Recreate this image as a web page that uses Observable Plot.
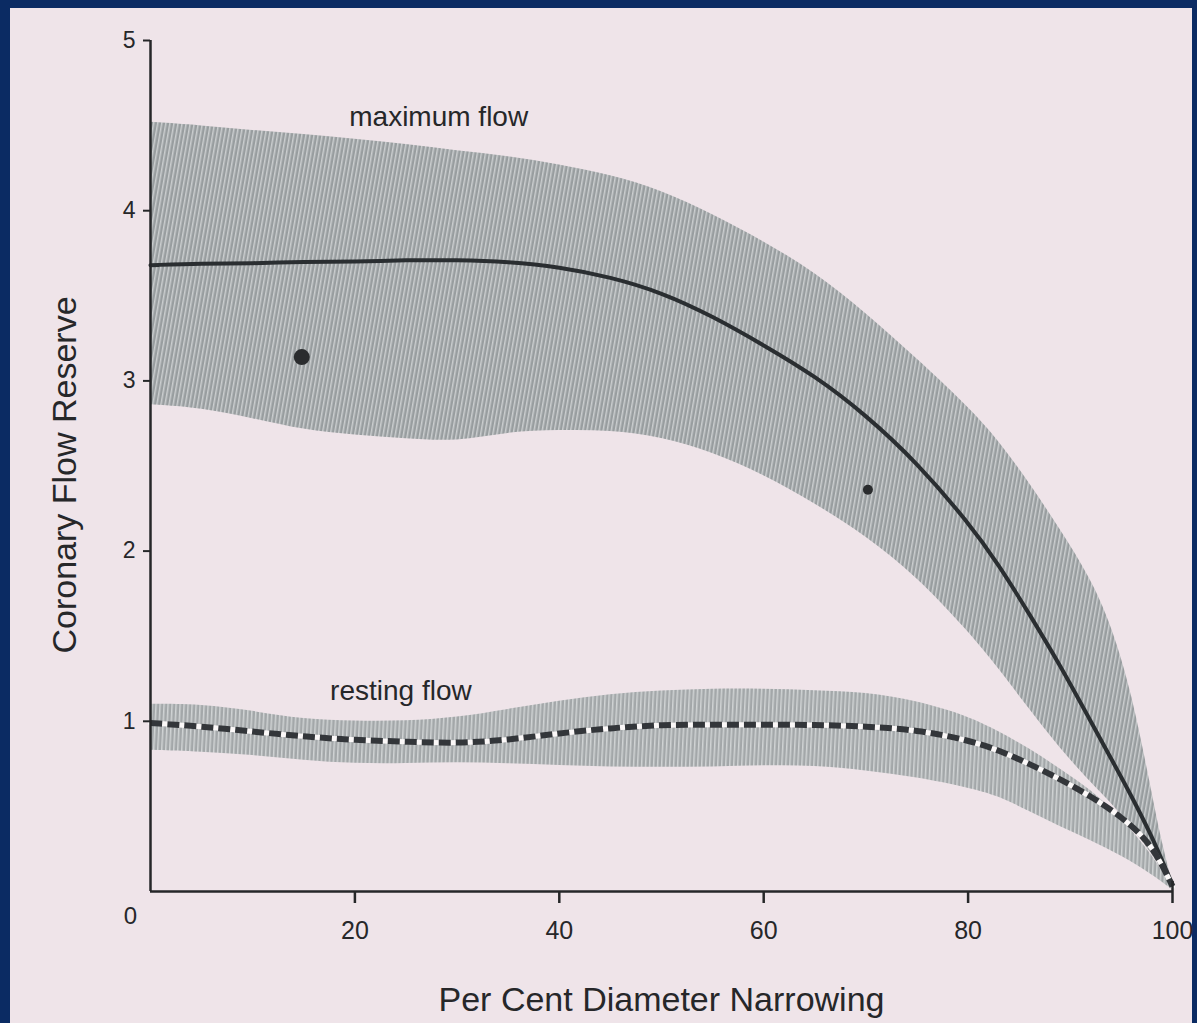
<!DOCTYPE html>
<html>
<head>
<meta charset="utf-8">
<script src="https://cdn.jsdelivr.net/npm/d3@7"></script>
<script src="https://cdn.jsdelivr.net/npm/@observablehq/plot@0.6"></script>
<style>
  html, body { margin: 0; padding: 0; }
  body { width: 1197px; height: 1023px; background: #0b2b63; position: relative; overflow: hidden; }
  #paper { position: absolute; left: 10px; top: 8px; width: 1182px; height: 1015px; background: #efe4e9; }
  #chart { position: absolute; left: 0; top: 0; }
</style>
</head>
<body>
<div id="paper"></div>
<div id="chart"></div>
<script>
// ---- data ----
const maxX      = [0, 5, 10, 15, 20, 25, 30, 35, 40, 45, 50, 55, 60, 65, 70, 75, 80, 83, 86, 89, 92, 94, 96, 98, 99, 100];
const maxUpper  = [4.52, 4.50, 4.47, 4.45, 4.42, 4.39, 4.35, 4.32, 4.27, 4.21, 4.12, 3.98, 3.82, 3.64, 3.40, 3.13, 2.85, 2.65, 2.40, 2.13, 1.84, 1.57, 1.18, 0.58, 0.28, 0.05];
const maxCenter = [3.68, 3.69, 3.69, 3.70, 3.70, 3.71, 3.71, 3.70, 3.67, 3.61, 3.52, 3.38, 3.21, 3.03, 2.80, 2.52, 2.17, 1.92, 1.63, 1.33, 1.00, 0.78, 0.56, 0.32, 0.18, 0.04];
const maxLower  = [2.86, 2.84, 2.78, 2.71, 2.68, 2.66, 2.64, 2.70, 2.71, 2.71, 2.67, 2.58, 2.45, 2.28, 2.09, 1.85, 1.53, 1.31, 1.07, 0.84, 0.64, 0.52, 0.38, 0.22, 0.12, 0.03];

const restX      = [0, 5, 10, 15, 20, 25, 30, 35, 40, 45, 50, 55, 60, 65, 70, 75, 80, 83, 86, 89, 92, 95, 98, 100];
const restUpper  = [1.10, 1.10, 1.06, 1.01, 1.00, 1.00, 1.02, 1.07, 1.12, 1.16, 1.18, 1.19, 1.19, 1.18, 1.17, 1.12, 1.03, 0.94, 0.84, 0.72, 0.60, 0.43, 0.22, 0.02];
const restCenter = [0.99, 0.97, 0.94, 0.91, 0.89, 0.88, 0.87, 0.89, 0.93, 0.96, 0.98, 0.98, 0.98, 0.98, 0.97, 0.95, 0.89, 0.83, 0.75, 0.66, 0.56, 0.44, 0.28, 0.03];
const restLower  = [0.83, 0.82, 0.80, 0.77, 0.75, 0.75, 0.76, 0.75, 0.74, 0.73, 0.73, 0.73, 0.74, 0.74, 0.71, 0.67, 0.61, 0.56, 0.47, 0.38, 0.30, 0.21, 0.10, 0.01];

const specksX = [14.8, 70.2];
const specksY = [3.14, 2.36];
const specksR = [8, 5];

const xTicks = [20, 40, 60, 80, 100];
const yTicks = [1, 2, 3, 4, 5];
const originLabel = ["0"];
const bandLabels = ["maximum flow", "resting flow"];
const bandLabelX = [28.2, 24.5];
const bandLabelY = [4.55, 1.18];
const xLabel = "Per Cent Diameter Narrowing";
const yLabel = "Coronary Flow Reserve";

// ---- tables built from the arrays ----
const maxBand = maxX.map((x, i) => ({x, lo: maxLower[i], hi: maxUpper[i], c: maxCenter[i]}));
const restBand = restX.map((x, i) => ({x, lo: restLower[i], hi: restUpper[i], c: restCenter[i]}));
const specks = specksX.map((x, i) => ({x, y: specksY[i], r: specksR[i]}));
const labels = bandLabels.map((t, i) => ({t, x: bandLabelX[i], y: bandLabelY[i]}));

const ink = "#262729";
const font = "'Liberation Sans', Arial, Helvetica, sans-serif";
const curve = "basis";

const chart = Plot.plot({
  width: 1197,
  height: 1023,
  marginLeft: 150,
  marginRight: 25,
  marginTop: 40,
  marginBottom: 132,
  style: {background: "transparent", fontFamily: font, color: ink, overflow: "visible"},
  x: {type: "linear", domain: [0, 100]},
  y: {type: "linear", domain: [0, 5]},
  r: {type: "identity"},
  marks: [
    Plot.areaY(restBand, {x: "x", y1: "lo", y2: "hi", fill: "url(#hatchRest)", curve}),
    Plot.areaY(maxBand, {x: "x", y1: "lo", y2: "hi", fill: "url(#hatchMax)", curve}),
    Plot.lineY(maxBand, {x: "x", y: "c", stroke: "#2a2e31", strokeWidth: 4, curve}),
    Plot.lineY(restBand, {x: "x", y: "c", stroke: "#fbf8f8", strokeWidth: 5, curve}),
    Plot.lineY(restBand, {x: "x", y: "c", stroke: "#33363a", strokeWidth: 6, strokeDasharray: "12 5", strokeLinecap: "butt", curve}),
    Plot.dot(specks, {x: "x", y: "y", r: "r", fill: "#2a2c2e"}),
    Plot.ruleX([0], {y1: 0, y2: 5, stroke: ink, strokeWidth: 2.5}),
    Plot.ruleY([0], {x1: 0, x2: 100, stroke: ink, strokeWidth: 2.5}),
    Plot.ruleX([100], {y1: 0, y2: 0.06, stroke: ink, strokeWidth: 2.5}),
    Plot.axisY({ticks: yTicks, tickFormat: d3.format("d"), tickSize: 7, tickPadding: 8, fontSize: 23, strokeWidth: 2, label: null}),
    Plot.axisX({ticks: xTicks, tickFormat: d3.format("d"), tickSize: 12, tickPadding: 18, fontSize: 25, strokeWidth: 2.5, label: null}),
    Plot.text(originLabel, {x: 0, y: 0, text: d => d, dx: -20, dy: 25, fontSize: 24, fill: ink}),
    Plot.text(labels, {x: "x", y: "y", text: "t", fontSize: 28, fill: ink}),
    Plot.text([xLabel], {frameAnchor: "bottom", text: d => d, textAnchor: "middle", lineAnchor: "middle", dy: 109, fontSize: 34, fill: ink}),
    Plot.text([yLabel], {frameAnchor: "left", text: d => d, textAnchor: "middle", lineAnchor: "middle", dx: -85, dy: 9, rotate: -90, fontSize: 34, fill: ink})
  ]
});

chart.insertAdjacentHTML("afterbegin", `
<defs>
  <pattern id="hatchMax" width="4" height="4" patternUnits="userSpaceOnUse" patternTransform="rotate(10)">
    <rect width="4" height="4" fill="#989d9f"/>
    <rect width="1.5" height="4" fill="#cbcecf"/>
  </pattern>
  <pattern id="hatchRest" width="4" height="4" patternUnits="userSpaceOnUse" patternTransform="rotate(3)">
    <rect width="4" height="4" fill="#a3a7a9"/>
    <rect width="1.5" height="4" fill="#d0d3d4"/>
  </pattern>
</defs>`);

document.getElementById("chart").appendChild(chart);
</script>
</body>
</html>
